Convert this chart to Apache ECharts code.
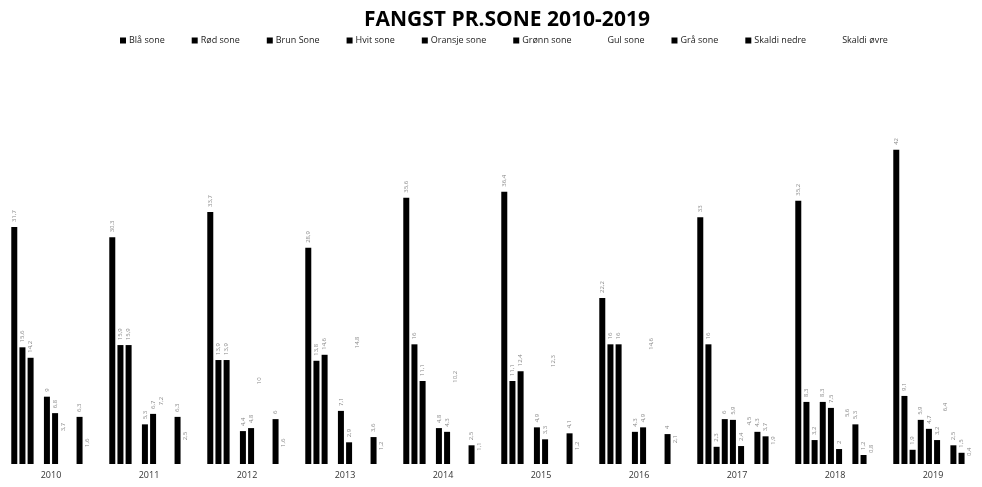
<!DOCTYPE html>
<html>
<head>
<meta charset="utf-8">
<title>Fangst pr. sone 2010-2019</title>
<script src="https://cdn.jsdelivr.net/npm/echarts@6/dist/echarts.min.js"></script>
<style>
  html, body { margin: 0; padding: 0; background: #fff; }
  #chart { width: 982px; height: 487px; }
</style>
</head>
<body>
<div id="chart"></div>
<script>
// år
const years = ["2010", "2011", "2012", "2013", "2014", "2015", "2016", "2017", "2018", "2019"];

// fangst per sone, lest av bildet (null = ingen verdi)
const blaa = [31.7, 30.3, 33.7, 28.9, 35.6, 36.4, 22.2, 33.0, 35.2, 42.0];
const rod = [15.6, 15.9, 13.9, 13.8, 16.0, 11.1, 16.0, 16.0, 8.3, 9.1];
const brun = [14.2, 15.9, 13.9, 14.6, 11.1, 12.4, 16.0, 2.3, 3.2, 1.9];
const hvit = [null, null, null, null, null, null, null, 6.0, 8.3, 5.9];
const oransje = [9.0, 5.3, 4.4, 7.1, 4.8, 4.9, 4.3, 5.9, 7.5, 4.7];
const gronn = [6.8, 6.7, 4.8, 2.9, 4.3, 3.3, 4.9, 2.4, 2.0, 3.2];
const gul = [3.7, 7.2, 10.0, 14.8, 10.2, 12.3, 14.6, 4.5, 5.6, 6.4];
const graa = [null, null, null, null, null, null, null, 4.3, 5.3, 2.5];
const skaldiNedre = [6.3, 6.3, 6.0, 3.6, 2.5, 4.1, 4.0, 3.7, 1.2, 1.5];
const skaldiOvre = [1.6, 2.5, 1.6, 1.2, 1.1, 1.2, 2.1, 1.9, 0.8, 0.4];

const soner = [
  { name: "Blå sone", data: blaa, color: "#000" },
  { name: "Rød sone", data: rod, color: "#000" },
  { name: "Brun Sone", data: brun, color: "#000" },
  { name: "Hvit sone", data: hvit, color: "#000" },
  { name: "Oransje sone", data: oransje, color: "#000" },
  { name: "Grønn sone", data: gronn, color: "#000" },
  { name: "Gul sone", data: gul, color: "#fff" },
  { name: "Grå sone", data: graa, color: "#000" },
  { name: "Skaldi nedre", data: skaldiNedre, color: "#000" },
  { name: "Skaldi øvre", data: skaldiOvre, color: "#fff" }
];

const chart = echarts.init(document.getElementById("chart"), null, { renderer: "canvas" });

const option = {
  animation: false,
  backgroundColor: "#fff",
  textStyle: { fontFamily: "Open Sans" },
  title: {
    text: "FANGST PR.SONE 2010-2019",
    left: 359,
    top: 5,
    textStyle: {
      fontFamily: "Open Sans",
      fontWeight: "bold",
      fontSize: 21,
      color: "#000"
    }
  },
  legend: {
    top: 31,
    left: 115,
    itemWidth: 6,
    itemHeight: 6,
    itemGap: 27,
    icon: "rect",
    textStyle: { fontSize: 9, color: "#222", padding: [0, 0, 0, -2] },
    data: soner.map(s => s.name)
  },
  grid: { left: 2, width: 992, top: 90, height: 374 },
  xAxis: {
    type: "category",
    data: years,
    axisLine: { show: false },
    axisTick: { show: false },
    axisLabel: { fontSize: 9, color: "#333", margin: 7 }
  },
  yAxis: {
    type: "value",
    min: 0,
    max: 50,
    show: false,
    splitLine: { show: false }
  },
  series: soner.map(s => ({
    name: s.name,
    type: "bar",
    data: s.data,
    barWidth: 6,
    barGap: "36%",
    itemStyle: { color: s.color },
    label: {
      show: true,
      position: "top",
      rotate: 90,
      align: "left",
      verticalAlign: "middle",
      distance: 5,
      fontSize: 6,
      color: "#888",
      formatter: p => String(p.value).replace(".", ",")
    }
  }))
};

chart.setOption(option);
</script>
</body>
</html>
